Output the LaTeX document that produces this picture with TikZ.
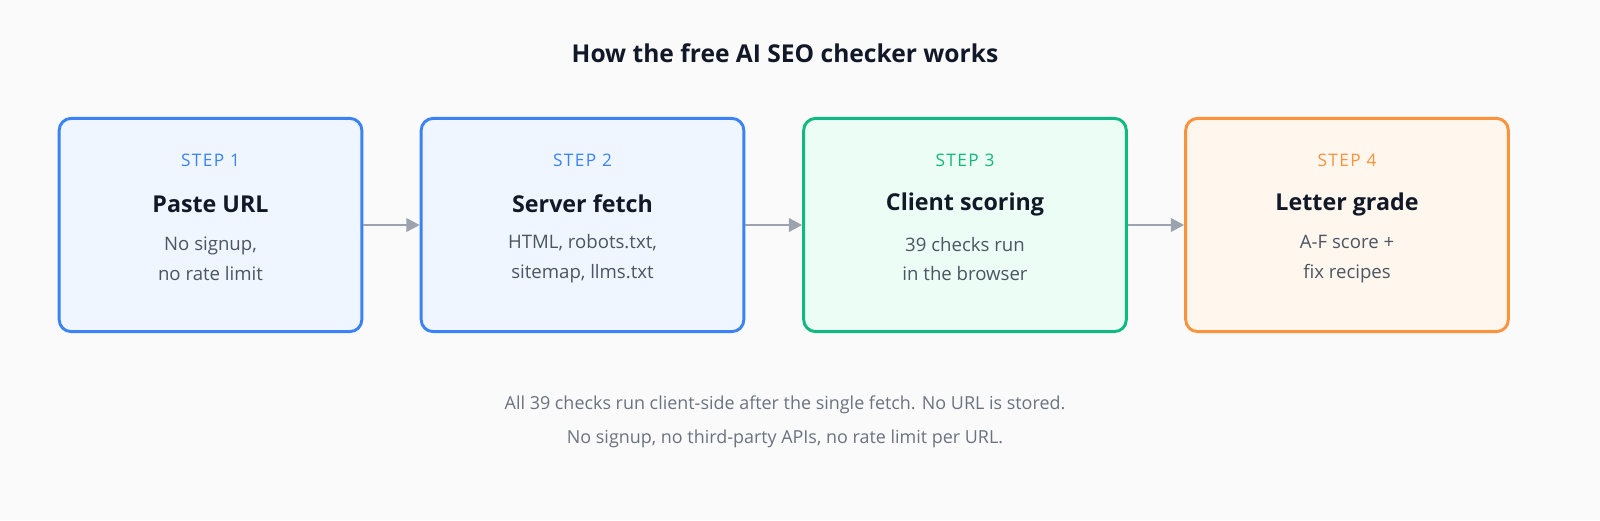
\documentclass[tikz,border=0pt]{standalone}
\usepackage{fontspec}
\setmainfont{Open Sans}
\usetikzlibrary{arrows.meta}
\definecolor{bg}{HTML}{FAFAFA}
\definecolor{bluel}{HTML}{3B82F6}\definecolor{bluef}{HTML}{EFF6FF}
\definecolor{greenl}{HTML}{10B981}\definecolor{greenf}{HTML}{ECFDF5}
\definecolor{orangel}{HTML}{FB923C}\definecolor{orangef}{HTML}{FFF7ED}
\definecolor{arr}{HTML}{9CA3AF}\definecolor{txt}{HTML}{4B5563}\definecolor{foot}{HTML}{6B7280}
\definecolor{dark}{HTML}{111827}
\tikzset{
 card/.style={draw=#1l, fill=#1f, line width=2.2pt, rounded corners=9pt, minimum height=160.5pt, inner sep=0pt},
 steplbl/.style={font=\fontsize{13}{15}\selectfont\addfontfeature{LetterSpace=8}, text=#1l},
 ttl/.style={font=\fontsize{17.5}{20}\selectfont\bfseries, text=dark},
 body/.style={font=\fontsize{14}{22.5}\selectfont, text=txt, align=center},
 conn/.style={draw=arr, line width=2pt, -{Triangle[length=10pt,width=10pt]}},
}
\begin{document}
\begin{tikzpicture}[x=0.75bp,y=-0.75bp]
\fill[bg] (0,0) rectangle (1600,520);
\useasboundingbox (0,0) rectangle (1600,520);
\node[font=\fontsize{18.5}{22}\selectfont\bfseries, text=dark] (title) at (785,53) {How the free AI SEO checker works};
\foreach \i/\x/\w/\c/\t/\a/\b in {1/210.5/227/blue/Paste URL/{No signup,}/{no rate limit},
  2/582.5/242/blue/Server fetch/{HTML, robots.txt,}/{sitemap, llms.txt},
  3/965/242/green/Client scoring/{39 checks run}/{in the browser},
  4/1347/242/orange/Letter grade/{A-F score +}/{fix recipes}}{
  \node[card=\c, minimum width=\w bp] (b\i) at (\x,225) {};
  \node[steplbl=\c] (s\i) at (\x,160) {STEP \i};
  \node[ttl] (t\i) at (\x,204) {\t};
  \node[body] (d\i) at (\x,259) {\a\\\b};
}
\draw[conn] (b1) -- (b2);
\draw[conn] (b2) -- (b3);
\draw[conn] (b3) -- (b4);
\node[font=\fontsize{13.5}{26}\selectfont, text=foot, align=center] (foot) at (785,422)
 {All 39 checks run client-side after the single fetch. No URL is stored.\\No signup, no third-party APIs, no rate limit per URL.};
\end{tikzpicture}
\end{document}
